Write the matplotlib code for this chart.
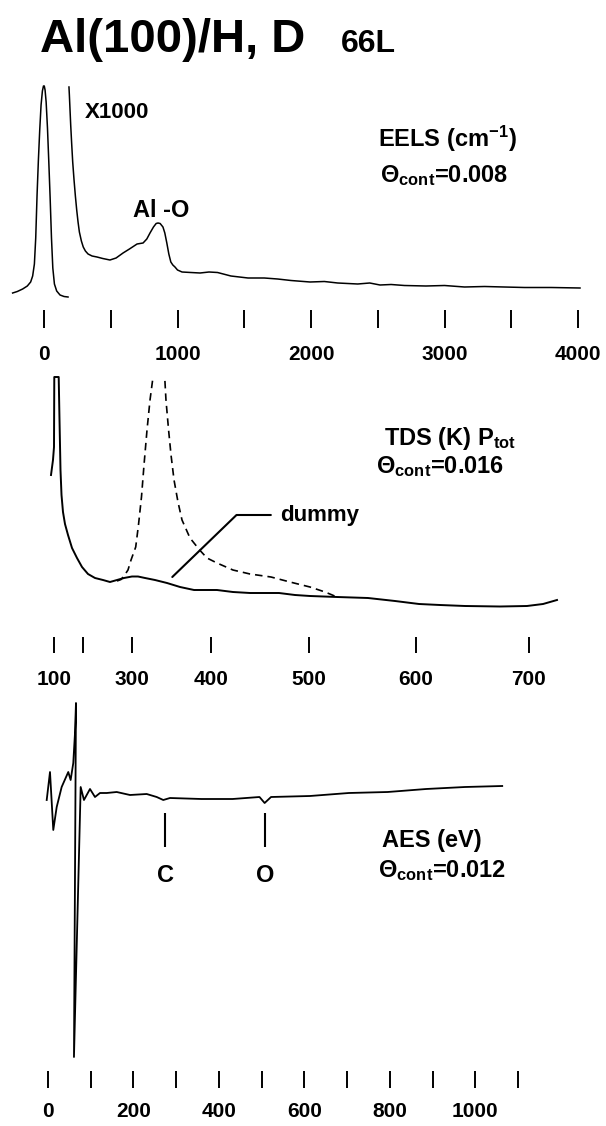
import numpy as np
import matplotlib
matplotlib.use('Agg')
import matplotlib.pyplot as plt
from matplotlib.ticker import FixedLocator, FixedFormatter

plt.rcParams['font.family'] = ['Liberation Sans', 'DejaVu Sans']
plt.rcParams['font.weight'] = 'bold'
plt.rcParams['mathtext.fontset'] = 'custom'
for k in ('rm', 'it', 'bf', 'sf'):
    plt.rcParams['mathtext.' + k] = 'Liberation Sans:bold'

W, H = 606, 1126

# ---- EELS (cm-1): elastic peak and x1000 trace ----
eels_elastic_cm = [-235, -200, -160, -125, -100, -85, -72, -62, -52, -42, -32, -22, -12, -4, 2, 8, 16,
                   26, 36, 46, 56, 66, 78, 95, 120, 150, 180]
eels_elastic_int = [7, 8.5, 11, 14, 18, 24, 36, 62, 105, 140, 170, 195, 209, 214, 214, 210, 198,
                    172, 138, 102, 62, 32, 16, 9, 5, 3.5, 3]
eels_x1000_cm = [187, 190, 195, 200, 207, 215, 225, 235, 245, 255, 265, 280, 294, 310, 330, 360, 397,
                 440, 494, 540, 592, 640, 697, 742, 770, 794, 820, 840, 854, 870, 891, 905, 920, 935,
                 950, 965, 981, 1000, 1034, 1100, 1169, 1236, 1300, 1400, 1528, 1650, 1750, 1850, 1993,
                 2100, 2200, 2350, 2440, 2517, 2600, 2700, 2861, 3000, 3150, 3300, 3446, 3600, 3800, 4015]
eels_x1000_int = [213, 205, 190, 175, 157, 138, 120, 104, 90, 78, 68, 59, 53, 49, 46, 44, 43,
                  41.5, 40, 42, 47, 51, 56, 57, 61, 67, 73, 76.5, 77, 76.5, 73, 67, 57, 46,
                  38, 35, 33, 30, 28, 27.5, 27, 28, 27.5, 24, 22, 22, 21, 19.5, 18,
                  18.5, 17, 16, 17, 15, 15.5, 14.5, 14, 14.5, 13, 13.5, 13, 12.5, 12.5, 12]
eels_ticks = [0, 500, 1000, 1500, 2000, 2500, 3000, 3500, 4000]
eels_labels = ['0', '', '1000', '', '2000', '', '3000', '', '4000']

# ---- TDS (K): total pressure and dummy ----
tds_temp = [89.3, 96.4, 100, 101, 116.2, 119, 122.4, 125.9, 131, 137.9, 148.3, 162.1, 179.3, 196.6,
            210.2, 224.5, 240.8, 255.1, 269.4, 283.7, 300, 307.6, 316.5, 329.1, 344.3, 360.8, 378.5,
            392.4, 406.1, 422.4, 439.8, 455.1, 469.4, 485.7, 500.9, 526.2, 555.1, 580.4, 602.7, 621.2,
            643.4, 674.3, 698.2, 712.4, 724.7]
tds_ptot = [185, 200, 213, 283, 283, 240, 190, 165, 148, 136, 125, 112, 102, 93,
            86, 82, 80, 78, 80, 82, 83.5, 83.5, 82, 80, 77, 73, 70,
            70, 70, 68, 67, 67, 67, 65, 64, 63, 62, 59, 56, 55,
            54, 53.5, 54, 56, 60]
tds_dummy_temp = [269.4, 277.6, 283.7, 291.8, 298.0, 304.7, 308.2, 312.0, 315.2, 319.0, 322.8, 326.6, 333.5,
                  341.4, 343.0, 346.3, 349.4, 353.2, 358.2, 363.3, 373.4, 385.6, 394.9, 406.1, 422.4,
                  439.8, 461.2, 480.6, 500.9, 515.0, 526.2]
tds_dummy_ptot = [79, 80.5, 84, 90, 100, 113, 135, 163, 195, 230, 260, 283, 325,
                  283, 260, 230, 205, 180, 158, 140, 122, 110, 102, 97, 90,
                  86, 83, 78, 73, 68, 63]
tds_ticks = [100, 200, 300, 400, 500, 600, 700]
tds_labels = ['100', '', '300', '400', '500', '600', '700']
# non-linear temperature scale of the recorder (temperature -> chart position)
tds_scale_temp = [50, 100, 200, 300, 400, 500, 600, 700, 760]
tds_scale_pos = [40, 54, 83, 132, 211, 309, 416, 529, 597]

# ---- AES (eV) ----
aes_ev = [-3, 4.7, 12.4, 20.4, 32, 47.5, 53, 59.2, 63.2, 65.5, 60.8, 76.5, 84.2, 98.3, 110, 121.7,
          137.4, 160.8, 191.9, 231, 254.4, 269.8, 285.5, 359, 432, 495, 507, 522, 613, 704, 795,
          885, 976, 1063]
aes_int = [0, 28, -30, -7, 13, 28, 20, 37, 67, 97, -257, 13, 0, 11, 3, 7,
           7, 8, 5, 6, 3, 0, 2, 1, 1, 3, -3, 3, 4, 7, 8,
           11, 13, 14]
aes_marker_ev = [275, 509]
aes_marker_names = ['C', 'O']
aes_ticks = list(range(0, 1200, 100))
aes_labels = ['0', '', '200', '', '400', '', '600', '', '800', '', '1000', '']


def px_rect(left, top, right, bottom):
    return [left / W, 1 - bottom / H, (right - left) / W, (bottom - top) / H]


def style_axis(ax, ticks, labels, length, pad):
    for s in ax.spines.values():
        s.set_visible(False)
    ax.set_yticks([])
    ax.xaxis.set_major_locator(FixedLocator(ticks))
    ax.xaxis.set_major_formatter(FixedFormatter(labels))
    ax.tick_params(axis='x', direction='in', length=length, width=1.4, pad=pad,
                   labelsize=15, colors='black')
    ax.patch.set_visible(False)


fig = plt.figure(figsize=(W / 100, H / 100), dpi=100)


def ftext(x, y, s, **kw):
    kw.setdefault('va', 'baseline')
    kw.setdefault('fontweight', 'bold')
    fig.text(x / W, 1 - y / H, s, **kw)


# EELS panel
ax1 = fig.add_axes(px_rect(0, 70, 606, 328))
ax1.plot(eels_elastic_cm, eels_elastic_int, color='black', lw=1.1)
ax1.plot(eels_x1000_cm, eels_x1000_int, color='black', lw=1.1)
ax1.set_xlim(-329.6, 4209.7)
ax1.set_ylim(-28, 230)
style_axis(ax1, eels_ticks, eels_labels, 13, 12)

# TDS panel
ax2 = fig.add_axes(px_rect(40, 377, 597, 653))
ax2.set_xscale('function', functions=(lambda t: np.interp(t, tds_scale_temp, tds_scale_pos),
                                      lambda p: np.interp(p, tds_scale_pos, tds_scale_temp)))
ax2.plot(tds_temp, tds_ptot, color='black', lw=1.4, clip_on=False)
ax2.plot(tds_dummy_temp, tds_dummy_ptot, color='black', lw=1.2, dashes=(4.5, 3))
ax2.set_xlim(50, 760)
ax2.set_ylim(7, 283)
style_axis(ax2, tds_ticks, tds_labels, 11.5, 12)
ax2.annotate('dummy', xy=(351, 83), xytext=(471, 145), ha='left', va='center',
             fontsize=16, fontweight='bold',
             arrowprops=dict(arrowstyle='-', lw=1.5, color='black', relpos=(0, 0.5),
                             shrinkA=5, shrinkB=0,
                             connectionstyle='angle,angleA=0,angleB=44,rad=0'))

# AES panel
ax3 = fig.add_axes(px_rect(0, 695, 606, 1088))
ax3.plot(aes_ev, aes_int, color='black', lw=1.3)
ax3.vlines(aes_marker_ev, -47, -13, color='black', lw=1.5)
for ev, name in zip(aes_marker_ev, aes_marker_names):
    ax3.text(ev, -82, name, ha='center', va='baseline', fontsize=17, fontweight='bold')
ax3.set_xlim(-112.3, 1305.9)
ax3.set_ylim(-288, 105)
style_axis(ax3, aes_ticks, aes_labels, 12, 10)

# texts
ftext(40, 52, 'Al(100)/H, D', fontsize=34)
ftext(341, 52, '66L', fontsize=23)
ftext(85, 118, 'X1000', fontsize=16)
ftext(133, 217, 'Al -O', fontsize=17)
ftext(378, 147, 'EELS (cm$^{-1}$)', fontsize=17)
ftext(380, 182, r'$\Theta_{cont}$=0.008', fontsize=17)
ftext(384, 445, 'TDS (K) P$_{tot}$', fontsize=17)
ftext(376, 473, r'$\Theta_{cont}$=0.016', fontsize=17)
ftext(382, 847, 'AES (eV)', fontsize=17)
ftext(378, 877, r'$\Theta_{cont}$=0.012', fontsize=17)

fig.savefig('out.png', dpi=100, facecolor='white')
